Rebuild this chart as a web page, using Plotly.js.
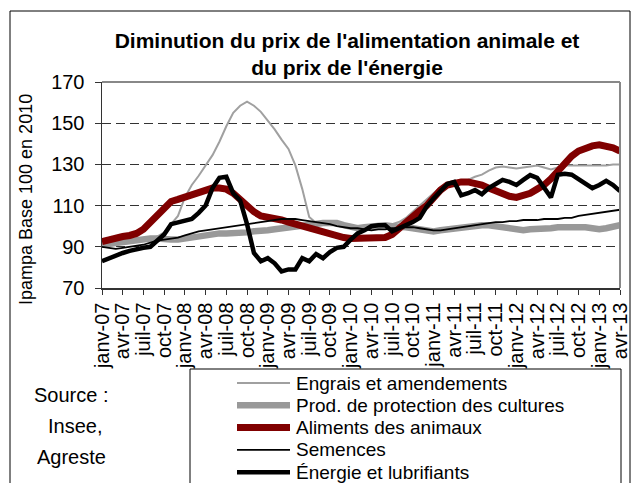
<!DOCTYPE html>
<html>
<head>
<meta charset="utf-8">
<script src="https://cdn.plot.ly/plotly-3.0.1.min.js"></script>
<style>
  html, body { margin: 0; padding: 0; background: #fff; }
  #chart { width: 639px; height: 483px; }
</style>
</head>
<body>
<div id="chart"></div>
<script>
// monthly Ipampa indices, janv-07 .. avr-13 (base 100 en 2010)
const engrais = [
  90, 90.5, 91, 91.5, 92, 93, 93.5, 94, 95, 97,
  101, 105, 114, 120, 124.5, 129.5, 134.5, 141, 148.5, 155,
  158.5, 160.5, 158.5, 155.5, 151.5, 147, 142, 137.5, 129.5, 118,
  104.5, 101.5, 101.5, 101.5, 101, 100.5, 100, 99.5, 99.5, 99.5,
  100, 100.5, 101, 102, 104, 107, 110, 113, 116, 119,
  120.5, 121, 121.5, 122.5, 124, 125, 127, 128.5, 129, 128.5,
  128, 128.5, 129, 129.5, 128.5, 127.5, 128.5, 129.5, 129.5, 129.5,
  129.5, 129.5, 129.5, 129.5, 130, 130
];
const protection = [
  91, 91.5, 92, 92.5, 93, 93.5, 94, 94, 94, 93.5,
  93.5, 93.5, 94, 94.5, 95.5, 96, 96, 96.5, 96.5, 96.5,
  97, 97, 97.5, 97.5, 98, 98.5, 99, 99.5, 100, 100.5,
  101, 101, 101.5, 101.5, 101.5, 100.5, 99.5, 99, 99.5, 100,
  100.5, 100.5, 100, 100, 99.5, 99, 98.5, 98, 97.5, 98,
  98.5, 98.5, 99, 99.5, 100, 100.5, 100.5, 100, 99.5, 98.5,
  98, 98, 98.5, 98.5, 98.5, 99, 99.5, 99.5, 100, 100,
  99.5, 99, 98.5, 99, 99.5, 100.5
];
const aliments = [
  92.5, 93.5, 94.5, 95, 95.5, 96.5, 98.5, 102, 106, 109.5,
  112, 113, 114, 115.5, 116.5, 117.5, 118.5, 118.5, 118, 116,
  113, 109.5, 107, 105, 104.5, 103.5, 103, 102, 101, 100.5,
  99.5, 98.5, 97.5, 96, 95, 94.5, 94, 94, 94, 94,
  94, 94.5, 96, 99, 102.5, 105.5, 107.5, 110, 114, 117.5,
  120, 121, 121.5, 121.5, 121, 120, 118.5, 117, 115.5, 114.5,
  114, 115, 116, 118, 120, 123, 126.5, 131, 134, 136.5,
  138, 139, 139.5, 139, 138, 136.5
];
const semences = [
  90, 89.5, 89, 89.5, 90, 90.5, 91, 92, 93, 93.5,
  94, 94.5, 95.5, 96.5, 97.5, 98, 98.5, 99, 99.5, 100,
  100.5, 101, 101.5, 102, 102.5, 103, 103.5, 103.5, 103.5, 103,
  102.5, 102, 101.5, 101, 100, 99.5, 99, 99, 98.5, 98,
  98.5, 98.5, 99, 99, 99.5, 99.5, 99, 98.5, 98, 98,
  98.5, 99, 99.5, 100, 100.5, 101, 101.5, 102, 102, 102.5,
  102.5, 103, 103, 103, 103.5, 103.5, 103.5, 104, 104, 105,
  105.5, 106, 106.5, 107, 107.5, 108
];
const energie = [
  83, 84.5, 86, 87, 88, 89, 89.5, 90, 93, 96,
  101, 102, 102.5, 103.5, 106.5, 110, 118.5, 123.5, 124, 116,
  112.5, 101, 87, 83, 84.5, 82, 78, 79, 79, 84.5,
  83, 86.5, 84.5, 87.5, 89.5, 90, 93.5, 96.5, 98, 100,
  100.5, 100.5, 97.5, 99, 100, 102, 104, 109.5, 113.5, 117,
  120.5, 121.5, 115, 116, 117.5, 115.5, 118.5, 120.5, 122.5, 121.5,
  120, 122.5, 124.8, 123.5, 119, 114, 125, 125.5, 125, 123,
  121, 118.5, 120, 122, 120, 117
];

const tickLabels = [
  'janv-07', 'avr-07', 'juil-07', 'oct-07',
  'janv-08', 'avr-08', 'juil-08', 'oct-08',
  'janv-09', 'avr-09', 'juil-09', 'oct-09',
  'janv-10', 'avr-10', 'juil-10', 'oct-10',
  'janv-11', 'avr-11', 'juil-11', 'oct-11',
  'janv-12', 'avr-12', 'juil-12', 'oct-12',
  'janv-13', 'avr-13'
];

const months = energie.map((_, i) => i);
const tickVals = tickLabels.map((_, i) => i * 3);

const FONT = 'Liberation Sans, Arial, sans-serif';

// plot area in pixels: x 102..620, y 82..288
const px = (x) => (x - 102) / 518;
const py = (y) => (288 - y) / 206;

const series = [
  { name: 'Engrais et amendements', y: engrais, color: '#a0a0a0', width: 2 },
  { name: 'Prod. de protection des cultures', y: protection, color: '#999999', width: 6.5 },
  { name: 'Aliments des animaux', y: aliments, color: '#800000', width: 7 },
  { name: 'Semences', y: semences, color: '#000000', width: 1.8 },
  { name: 'Énergie et lubrifiants', y: energie, color: '#000000', width: 4.5 },
];

const traces = series.map((s) => ({
  x: months,
  y: s.y,
  type: 'scatter',
  mode: 'lines',
  name: s.name,
  line: { color: s.color, width: s.width },
  hoverinfo: 'skip',
}));

function text(str, x, y, size, anchor, extra) {
  return Object.assign({
    text: str,
    xref: 'paper', yref: 'paper',
    x: px(x), y: py(y),
    xanchor: anchor, yanchor: 'middle',
    showarrow: false,
    font: { family: FONT, size: size, color: '#000000' },
  }, extra || {});
}

// legend drawn by hand, Excel style: long samples, tight rows, wide box
const legendRow0 = 383;
const legendStep = 22.3;
const legendShapes = series.map((s, i) => ({
  type: 'line', xref: 'paper', yref: 'paper', layer: 'above',
  x0: px(237), x1: px(290),
  y0: py(legendRow0 + i * legendStep), y1: py(legendRow0 + i * legendStep),
  line: { color: s.color, width: s.width },
}));
const legendTexts = series.map((s, i) =>
  text(s.name, 294, legendRow0 + i * legendStep, 19, 'left'));

const layout = {
  width: 639,
  height: 483,
  margin: { l: 102, r: 19, t: 82, b: 195, autoexpand: false },
  paper_bgcolor: '#ffffff',
  plot_bgcolor: '#ffffff',
  font: { family: FONT, color: '#000000' },
  showlegend: false,
  title: {
    text: "Diminution du prix de l'alimentation animale et<br>du prix de l'énergie",
    font: { family: FONT, size: 21, color: '#000000', weight: 'bold' },
    xref: 'container',
    yref: 'container',
    x: 347 / 639,
    xanchor: 'center',
    y: 1 - 48 / 483,
    yanchor: 'middle',
  },
  xaxis: {
    range: [0, 75],
    tickmode: 'array',
    tickvals: tickVals,
    ticktext: tickLabels,
    tickangle: -90,
    ticks: 'outside',
    ticklen: 5,
    tickcolor: '#333333',
    tickfont: { family: FONT, size: 20, color: '#000000' },
    showline: true,
    linecolor: '#333333',
    linewidth: 1.5,
    showgrid: false,
    zeroline: false,
    fixedrange: true,
  },
  yaxis: {
    range: [70, 170],
    tickmode: 'linear',
    tick0: 70,
    dtick: 20,
    ticks: 'outside',
    ticklen: 6,
    tickcolor: '#333333',
    tickfont: { family: FONT, size: 20, color: '#000000' },
    ticklabelstandoff: 6,
    showline: true,
    linecolor: '#333333',
    linewidth: 1.5,
    showgrid: true,
    gridcolor: '#333333',
    gridwidth: 1,
    griddash: '9px,5px',
    zeroline: false,
    fixedrange: true,
  },
  annotations: [
    text('Ipampa Base 100 en 2010', 26, 200, 18, 'center', { textangle: -90 }),
    text('Source :', 71, 395, 20, 'center'),
    text('Insee,', 75, 426, 20, 'center'),
    text('Agreste', 71, 457, 20, 'center'),
  ].concat(legendTexts),
  shapes: [
    // outer chart frame
    {
      type: 'rect', xref: 'paper', yref: 'paper', layer: 'below',
      x0: px(10), x1: px(630), y0: py(500), y1: py(11),
      line: { color: '#000000', width: 1 },
    },
    // plot area border, top and right
    {
      type: 'line', xref: 'paper', yref: 'paper', layer: 'above',
      x0: 0, x1: 1, y0: 1, y1: 1,
      line: { color: '#888888', width: 2 },
    },
    {
      type: 'line', xref: 'paper', yref: 'paper', layer: 'above',
      x0: 1, x1: 1, y0: 0, y1: 1,
      line: { color: '#888888', width: 2 },
    },
    // legend box
    {
      type: 'rect', xref: 'paper', yref: 'paper', layer: 'below',
      x0: px(190), x1: px(621), y0: py(500), y1: py(369),
      line: { color: '#000000', width: 1 },
    },
  ].concat(legendShapes),
};

Plotly.newPlot('chart', traces, layout, { staticPlot: true, displayModeBar: false });
</script>
</body>
</html>
